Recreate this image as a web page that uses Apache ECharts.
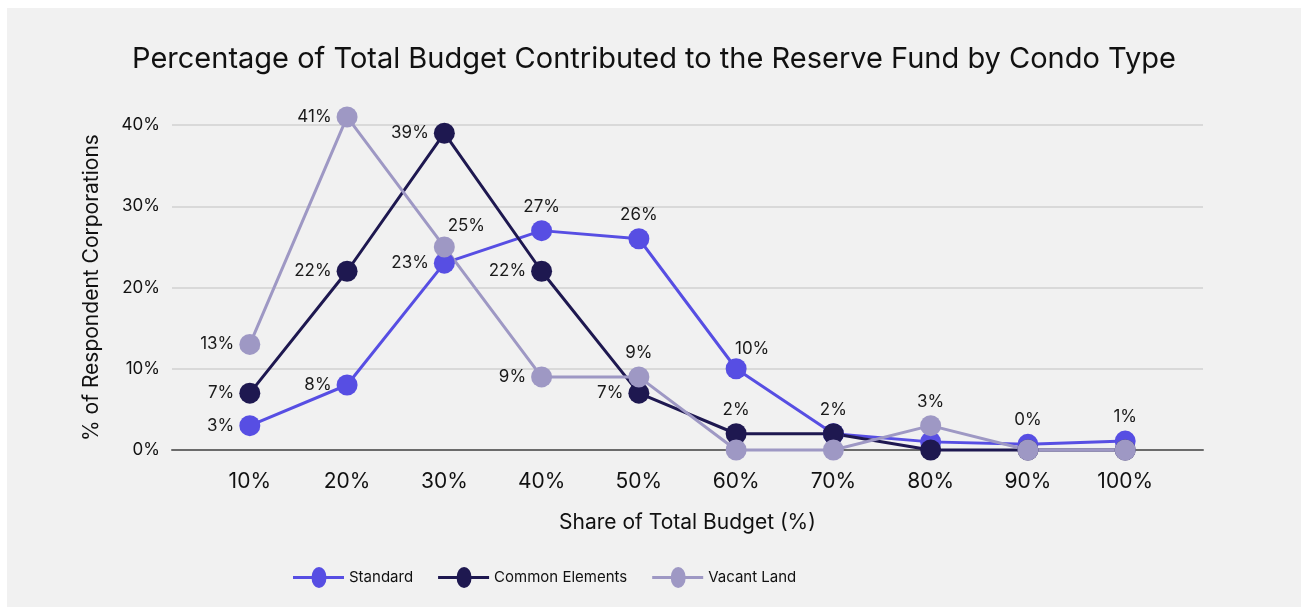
<!DOCTYPE html>
<html>
<head>
<meta charset="utf-8">
<script src="https://cdn.jsdelivr.net/npm/echarts@6/dist/echarts.min.js"></script>
<style>
  html, body { margin: 0; padding: 0; background: #ffffff; }
  #chart { position: absolute; left: 7px; top: 8px; width: 1294px; height: 599px; background: #f1f1f1; }
</style>
</head>
<body>
<div id="chart"></div>
<script>
// ---- data ----
const categories = ['10%', '20%', '30%', '40%', '50%', '60%', '70%', '80%', '90%', '100%'];
const categoryPositions = [10, 20, 30, 40, 50, 60, 70, 80, 90, 100];
const yTickLabels = ['0%', '10%', '20%', '30%', '40%'];
const standard = [3, 8, 23, 27, 26, 10, 2, 1, 0.7, 1.1];
const commonElements = [7, 22, 39, 22, 7, 2, 2, 0, 0, 0];
const vacantLand = [13, 41, 25, 9, 9, 0, 0, 3, 0, 0];

// ---- label placement (style) ----
const placements = {
  L: { position: 'left' },
  T: { position: 'top' },
  TR: { position: 'top', offset: [16, 4] },
  TR2: { position: 'top', offset: [22, 3] }
};
const stdPlace = ['L', 'L', 'L', 'T', 'T', 'TR', null, null, 'T', 'T'];
const cePlace = ['L', 'L', 'L', 'L', 'L', 'T', 'T', null, null, null];
const vlPlace = ['L', 'L', 'TR2', 'L', 'T', null, null, 'T', null, null];

const FONT = 'Inter, "Liberation Sans", sans-serif';
const colors = { std: '#574ee3', ce: '#1e1850', vl: '#9e98c4' };

function buildData(values, place) {
  return values.map((v, i) => {
    const p = place[i];
    const item = { value: [categoryPositions[i], v] };
    item.label = p ? Object.assign({ show: true }, placements[p]) : { show: false };
    return item;
  });
}

function legendPath() {
  return 'path://M0,9 L19.5,9 L19.5,12 L0,12 Z ' +
         'M32.5,9 L51,9 L51,12 L32.5,12 Z ' +
         'M18.5,10.5 A7.5,10.5 0 1,1 33.5,10.5 A7.5,10.5 0 1,1 18.5,10.5 Z';
}

function makeSeries(name, values, place, color) {
  return {
    name: name,
    type: 'line',
    data: buildData(values, place),
    clip: false,
    symbol: 'circle',
    symbolSize: 21,
    lineStyle: { width: 3, color: color },
    itemStyle: { color: color },
    label: {
      color: '#1a1a1a',
      fontFamily: FONT,
      fontSize: 17,
      distance: 5,
      formatter: p => Math.floor(p.value[1]) + '%'
    },
    emphasis: { disabled: true },
    animation: false
  };
}

const chart = echarts.init(document.getElementById('chart'), null, { renderer: 'canvas' });
chart.setOption({
  backgroundColor: '#f1f1f1',
  animation: false,
  title: {
    text: 'Percentage of Total Budget Contributed to the Reserve Fund by Condo Type',
    left: 'center',
    top: 32,
    textStyle: { fontFamily: FONT, fontSize: 29, fontWeight: 'normal', color: '#111111' }
  },
  legend: {
    left: 286,
    top: 559,
    padding: 0,
    itemWidth: 51,
    itemHeight: 21,
    itemGap: 25,
    textStyle: { fontFamily: FONT, fontSize: 15, color: '#111111' },
    data: [
      { name: 'Standard', icon: legendPath() },
      { name: 'Common Elements', icon: legendPath() },
      { name: 'Vacant Land', icon: legendPath() }
    ]
  },
  grid: { left: 165, right: 98, top: 117, bottom: 157, containLabel: false },
  xAxis: {
    type: 'value',
    min: 2,
    max: 108,
    name: 'Share of Total Budget (%)',
    nameLocation: 'middle',
    nameGap: 62,
    nameTextStyle: { fontFamily: FONT, fontSize: 21, color: '#111111' },
    axisLine: { show: true, onZero: false, lineStyle: { color: '#6b6b6b', width: 2 } },
    axisTick: { show: false },
    splitLine: { show: false },
    axisLabel: {
      customValues: categoryPositions,
      formatter: v => categories[categoryPositions.indexOf(v)] || '',
      fontFamily: FONT,
      fontSize: 21,
      color: '#111111',
      margin: 21
    }
  },
  yAxis: {
    type: 'value',
    min: 0,
    max: 40,
    interval: 10,
    name: '% of Respondent Corporations',
    nameLocation: 'middle',
    nameRotate: 90,
    nameGap: 70,
    nameTextStyle: { fontFamily: FONT, fontSize: 21, color: '#111111' },
    axisLine: { show: false },
    axisTick: { show: false },
    splitLine: { show: true, lineStyle: { color: '#d0d0d0', width: 1.5 } },
    axisLabel: {
      formatter: v => yTickLabels[v / 10] || '',
      fontFamily: FONT,
      fontSize: 17,
      color: '#111111',
      margin: 12
    }
  },
  series: [
    makeSeries('Standard', standard, stdPlace, colors.std),
    makeSeries('Common Elements', commonElements, cePlace, colors.ce),
    makeSeries('Vacant Land', vacantLand, vlPlace, colors.vl)
  ]
});
</script>
</body>
</html>
